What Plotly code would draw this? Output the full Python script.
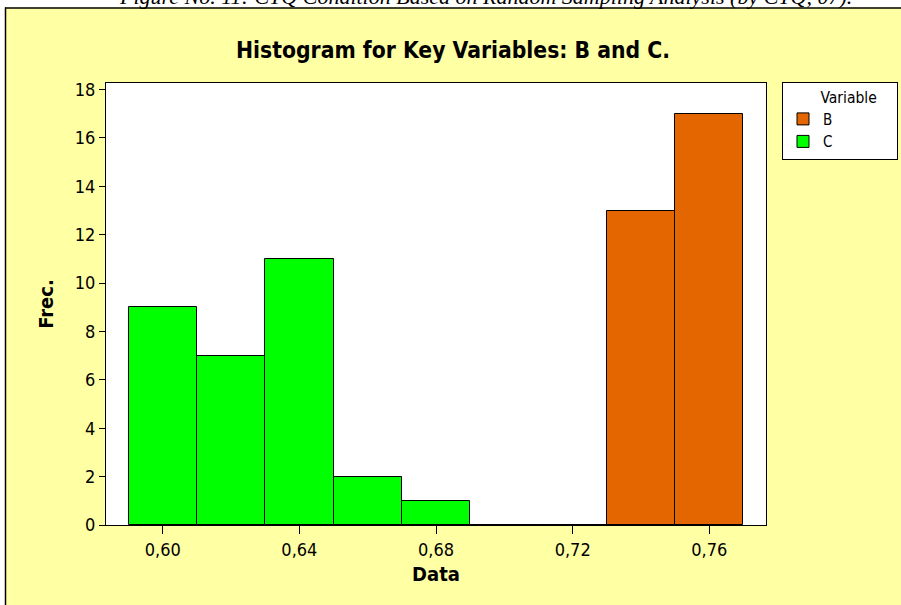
import plotly.graph_objects as go

# Data
bin_centers_c = [0.60, 0.62, 0.64, 0.66, 0.68, 0.70, 0.72]
freq_c = [9, 7, 11, 2, 1, 0, 0]
bin_centers_b = [0.74, 0.76]
freq_b = [13, 17]
bin_width = 0.02
x_ticks = [0.60, 0.64, 0.68, 0.72, 0.76]
y_ticks = [0, 2, 4, 6, 8, 10, 12, 14, 16, 18]

W, H = 901, 605
L, R, T, B = 106, 135, 82.5, 80
pw, ph = W - L - R, H - T - B

def px_x(p):
    return (p - L) / pw

def px_y(p):
    return (H - B - p) / ph

FONT = "DejaVu Sans Condensed, Tahoma, DejaVu Sans, sans-serif"
YELLOW = "#FFFFA4"
NB = "&nbsp;"

fig = go.Figure()
fig.add_trace(go.Bar(x=bin_centers_b, y=freq_b, width=bin_width, name="B",
                     marker=dict(color="#E36600", line=dict(color="black", width=1))))
fig.add_trace(go.Bar(x=bin_centers_c, y=freq_c, width=bin_width, name="C",
                     marker=dict(color="#00FF00", line=dict(color="black", width=1))))

shapes = [
    # white strip at top and left
    dict(type="rect", xref="paper", yref="paper", x0=px_x(-10), x1=px_x(W + 10),
         y0=px_y(7), y1=px_y(-10), fillcolor="white", line=dict(width=0), layer="below"),
    dict(type="rect", xref="paper", yref="paper", x0=px_x(-10), x1=px_x(5),
         y0=px_y(H + 10), y1=px_y(-10), fillcolor="white", line=dict(width=0), layer="below"),
    # black border lines
    dict(type="line", xref="paper", yref="paper", x0=px_x(5), x1=px_x(W + 10),
         y0=px_y(7.5), y1=px_y(7.5), line=dict(color="black", width=1.5)),
    dict(type="line", xref="paper", yref="paper", x0=px_x(5.5), x1=px_x(5.5),
         y0=px_y(7), y1=px_y(H + 10), line=dict(color="black", width=1.5)),
]

annotations = [
    dict(text="<i>Figure No. 11: CTQ Condition Based on Random Sampling Analysis (by CTQ, 07).</i>",
         xref="paper", yref="paper", x=px_x(485), y=px_y(-4), showarrow=False,
         xanchor="center", yanchor="middle",
         font=dict(family="Liberation Serif", size=22, color="black")),
]

fig.update_layout(
    width=W, height=H,
    margin=dict(l=L, r=R, t=T, b=B, autoexpand=False),
    paper_bgcolor=YELLOW,
    plot_bgcolor="white",
    barmode="overlay",
    bargap=0,
    separators=", ",
    font=dict(family=FONT, size=18, color="black"),
    title=dict(text="<b>Histogram for Key Variables: B and C.</b>",
               x=453 / W, xanchor="center", y=1 - 50 / H, yanchor="middle",
               font=dict(family=FONT, size=22.7, color="black")),
    xaxis=dict(range=[0.5834, 0.7766], tickvals=x_ticks, tickformat=".2f",
               showgrid=False, zeroline=False, showline=True, linecolor="black",
               linewidth=1, mirror=True, ticks="outside", ticklen=8, tickcolor="black",
               title=dict(text="<b>Data</b>", font=dict(family=FONT, size=20), standoff=8)),
    yaxis=dict(range=[0, 18.27], tickvals=y_ticks,
               showgrid=False, zeroline=False, showline=True, linecolor="black",
               linewidth=1, mirror=True, ticks="outside", ticklen=6, tickcolor="black",
               title=dict(text="<b>Frec.</b>", font=dict(family=FONT, size=20), standoff=15)),
    legend=dict(x=px_x(782), y=px_y(81), xanchor="left", yanchor="top",
                bgcolor="white", bordercolor="black", borderwidth=1,
                title=dict(text=NB * 8 + "Variable" + NB * 4, side="top",
                           font=dict(family=FONT, size=15.5)),
                font=dict(family=FONT, size=15), traceorder="normal",
                itemwidth=30, tracegroupgap=0),
    shapes=shapes,
    annotations=annotations,
    showlegend=True,
)

fig.write_html("out.html", post_script="document.body.style.margin='0';",
               config={"displayModeBar": False})
